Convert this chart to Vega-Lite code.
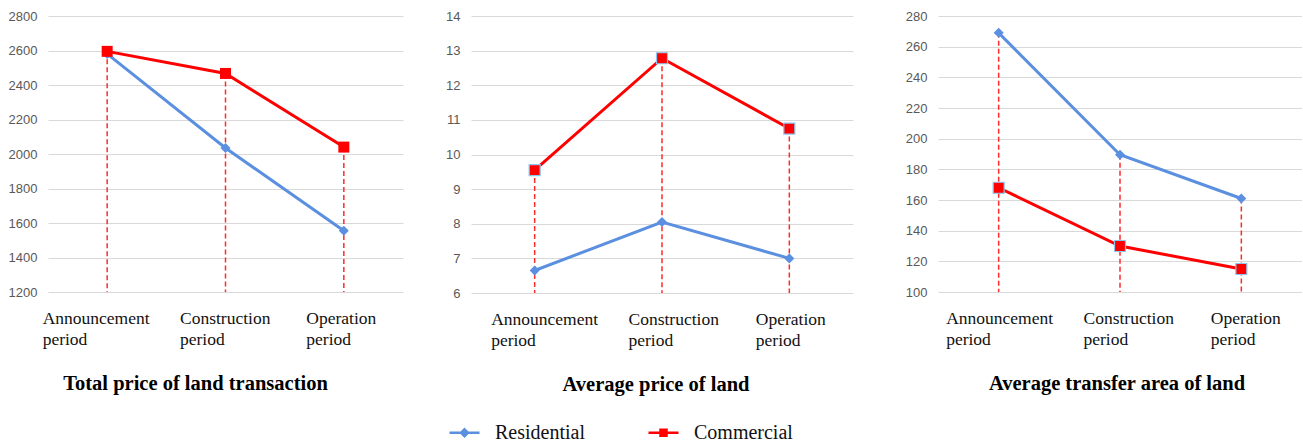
{
  "$schema": "https://vega.github.io/schema/vega-lite/v6.json",
  "padding": {"left": 8, "top": 10, "right": 0, "bottom": 0},
  "background": "white",
  "datasets": {
    "p1": [
      {"period": "Announcement period", "series": "Residential", "value": 2580},
      {"period": "Construction period", "series": "Residential", "value": 2035},
      {"period": "Operation period", "series": "Residential", "value": 1555},
      {"period": "Announcement period", "series": "Commercial", "value": 2595},
      {"period": "Construction period", "series": "Commercial", "value": 2467},
      {"period": "Operation period", "series": "Commercial", "value": 2040}
    ],
    "p2": [
      {"period": "Announcement period", "series": "Residential", "value": 6.65},
      {"period": "Construction period", "series": "Residential", "value": 8.05},
      {"period": "Operation period", "series": "Residential", "value": 7.0},
      {"period": "Announcement period", "series": "Commercial", "value": 9.55},
      {"period": "Construction period", "series": "Commercial", "value": 12.78},
      {"period": "Operation period", "series": "Commercial", "value": 10.75}
    ],
    "p3": [
      {"period": "Announcement period", "series": "Residential", "value": 269},
      {"period": "Construction period", "series": "Residential", "value": 189.5},
      {"period": "Operation period", "series": "Residential", "value": 161},
      {"period": "Announcement period", "series": "Commercial", "value": 168},
      {"period": "Construction period", "series": "Commercial", "value": 130},
      {"period": "Operation period", "series": "Commercial", "value": 115}
    ]
  },
  "bounds": "flush",
  "spacing": 68,
  "resolve": {"scale": {"x": "independent", "y": "independent", "color": "shared"}, "legend": {"color": "shared"}},
  "hconcat": [
    {
      "width": 355,
      "height": 276,
      "data": {"name": "p1"},
      "title": {"text": "Total price of land transaction", "orient": "bottom", "frame": "group", "anchor": "middle", "dx": -30, "offset": 26},
      "encoding": {
        "x": {"field": "period", "type": "nominal", "sort": ["Announcement period", "Construction period", "Operation period"], "scale": {"type": "point", "padding": 0.5}, "title": null,
          "axis": {"labelOffset": {"condition": [{"test": "datum.value === 'Announcement period'", "value": -65}, {"test": "datum.value === 'Construction period'", "value": -46}], "value": -38}}},
        "y": {"field": "value", "type": "quantitative", "title": null, "scale": {"domain": [1200, 2800], "nice": false, "zero": false}, "axis": {"format": "d", "values": [1200, 1400, 1600, 1800, 2000, 2200, 2400, 2600, 2800]}}
      },
      "layer": [
        {"mark": {"type": "line", "strokeWidth": 3},
         "encoding": {
           "color": {"field": "series", "type": "nominal", "scale": {"domain": ["Residential", "Commercial"], "range": ["#5b8fe0", "#ff0000"]}}
         }},
        {"transform": [{"aggregate": [{"op": "max", "field": "value", "as": "top"}], "groupby": ["period"]}],
         "mark": {"type": "rule", "color": "#ff2a2a", "strokeDash": [5, 3], "strokeWidth": 1.5},
         "encoding": {"y": {"field": "top", "type": "quantitative", "title": null}, "y2": {"datum": 1200}}},
        {"transform": [{"filter": "datum.series === 'Residential'"}],
         "mark": {"type": "point", "shape": "diamond", "filled": true, "size": 100, "fill": "#5b8fe0", "opacity": 1},
         "encoding": {"y": {"field": "value", "type": "quantitative", "title": null}}},
        {"transform": [{"filter": "datum.series === 'Commercial'"}],
         "mark": {"type": "point", "shape": "square", "filled": true, "size": 121, "fill": "#ff0000", "opacity": 1},
         "encoding": {"y": {"field": "value", "type": "quantitative", "title": null}}},
        {"mark": {"type": "point", "filled": true, "opacity": 0},
         "encoding": {
           "y": {"field": "value", "type": "quantitative", "title": null},
           "color": {"field": "series", "type": "nominal", "scale": {"domain": ["Residential", "Commercial"], "range": ["#5b8fe0", "#ff0000"]}},
           "shape": {"field": "series", "type": "nominal", "scale": {"domain": ["Residential", "Commercial"], "range": ["M-1,0H1M0,-0.23L0.23,0L0,0.23L-0.23,0Z", "M-1,0H1M-0.2,-0.2H0.2V0.2H-0.2Z"]}}
         }}
      ]
    },
    {
      "bounds": "flush",
      "spacing": 85,
      "resolve": {"scale": {"x": "independent", "y": "independent", "color": "shared"}, "legend": {"color": "shared"}},
      "hconcat": [
        {
          "width": 382,
          "height": 277,
          "data": {"name": "p2"},
          "title": {"text": "Average price of land", "orient": "bottom", "frame": "group", "anchor": "middle", "dx": -6, "offset": 26},
          "encoding": {
            "x": {"field": "period", "type": "nominal", "sort": ["Announcement period", "Construction period", "Operation period"], "scale": {"type": "point", "padding": 0.5}, "title": null,
              "axis": {"labelOffset": {"condition": [{"test": "datum.value === 'Announcement period'", "value": -44}, {"test": "datum.value === 'Construction period'", "value": -34}], "value": -34}}},
            "y": {"field": "value", "type": "quantitative", "title": null, "scale": {"domain": [6, 14], "nice": false, "zero": false}, "axis": {"values": [6, 7, 8, 9, 10, 11, 12, 13, 14]}}
          },
          "layer": [
            {"mark": {"type": "line", "strokeWidth": 3},
             "encoding": {
               "color": {"field": "series", "type": "nominal", "scale": {"domain": ["Residential", "Commercial"], "range": ["#5b8fe0", "#ff0000"]}}
             }},
            {"transform": [{"aggregate": [{"op": "max", "field": "value", "as": "top"}], "groupby": ["period"]}],
             "mark": {"type": "rule", "color": "#ff2a2a", "strokeDash": [5, 3], "strokeWidth": 1.5},
             "encoding": {"y": {"field": "top", "type": "quantitative", "title": null}, "y2": {"datum": 6}}},
            {"transform": [{"filter": "datum.series === 'Residential'"}],
             "mark": {"type": "point", "shape": "diamond", "filled": true, "size": 100, "fill": "#5b8fe0", "opacity": 1},
             "encoding": {"y": {"field": "value", "type": "quantitative", "title": null}}},
            {"transform": [{"filter": "datum.series === 'Commercial'"}],
             "mark": {"type": "point", "shape": "square", "filled": true, "size": 121, "fill": "#ff0000", "stroke": "#8cc8f0", "strokeWidth": 1.2, "opacity": 1},
             "encoding": {"y": {"field": "value", "type": "quantitative", "title": null}}}
          ]
        },
        {
          "width": 364,
          "height": 276,
          "data": {"name": "p3"},
          "title": {"text": "Average transfer area of land", "orient": "bottom", "frame": "group", "anchor": "middle", "dx": -3, "offset": 26},
          "encoding": {
            "x": {"field": "period", "type": "nominal", "sort": ["Announcement period", "Construction period", "Operation period"], "scale": {"type": "point", "padding": 0.5}, "title": null,
              "axis": {"labelOffset": {"condition": [{"test": "datum.value === 'Announcement period'", "value": -53}, {"test": "datum.value === 'Construction period'", "value": -37}], "value": -31}}},
            "y": {"field": "value", "type": "quantitative", "title": null, "scale": {"domain": [100, 280], "nice": false, "zero": false}, "axis": {"values": [100, 120, 140, 160, 180, 200, 220, 240, 260, 280]}}
          },
          "layer": [
            {"mark": {"type": "line", "strokeWidth": 3},
             "encoding": {
               "color": {"field": "series", "type": "nominal", "scale": {"domain": ["Residential", "Commercial"], "range": ["#5b8fe0", "#ff0000"]}}
             }},
            {"transform": [{"aggregate": [{"op": "max", "field": "value", "as": "top"}], "groupby": ["period"]}],
             "mark": {"type": "rule", "color": "#ff2a2a", "strokeDash": [5, 3], "strokeWidth": 1.5},
             "encoding": {"y": {"field": "top", "type": "quantitative", "title": null}, "y2": {"datum": 100}}},
            {"transform": [{"filter": "datum.series === 'Residential'"}],
             "mark": {"type": "point", "shape": "diamond", "filled": true, "size": 100, "fill": "#5b8fe0", "opacity": 1},
             "encoding": {"y": {"field": "value", "type": "quantitative", "title": null}}},
            {"transform": [{"filter": "datum.series === 'Commercial'"}],
             "mark": {"type": "point", "shape": "square", "filled": true, "size": 121, "fill": "#ff0000", "stroke": "#8cc8f0", "strokeWidth": 1.2, "opacity": 1},
             "encoding": {"y": {"field": "value", "type": "quantitative", "title": null}}}
          ]
        }
      ]
    }
  ],
  "config": {
    "view": {"stroke": null},
    "axisY": {"domain": false, "ticks": false, "gridColor": "#d9d9d9", "gridWidth": 1, "labelFont": "Liberation Sans", "labelFontSize": 13, "labelColor": "#595959", "labelPadding": 11},
    "axisX": {"domain": false, "ticks": false, "grid": false, "labelFont": "Liberation Serif", "labelFontSize": 17.5, "labelColor": "#111111", "labelAngle": 0, "labelAlign": "left", "labelBaseline": "top", "labelPadding": 17, "labelLineHeight": 21, "labelOverlap": false, "labelExpr": "split(datum.label, ' ')"},
    "title": {"font": "Liberation Serif", "fontSize": 20.5, "fontWeight": "bold", "color": "#000000"},
    "legend": {
      "orient": "none", "legendX": 400, "legendY": 400, "direction": "horizontal", "title": null,
      "symbolSize": 900, "symbolStrokeWidth": 2.5, "symbolOpacity": 1,
      "labelFont": "Liberation Serif", "labelFontSize": 20, "labelColor": "#111111", "labelOffset": 14, "columnPadding": 58
    }
  }
}
